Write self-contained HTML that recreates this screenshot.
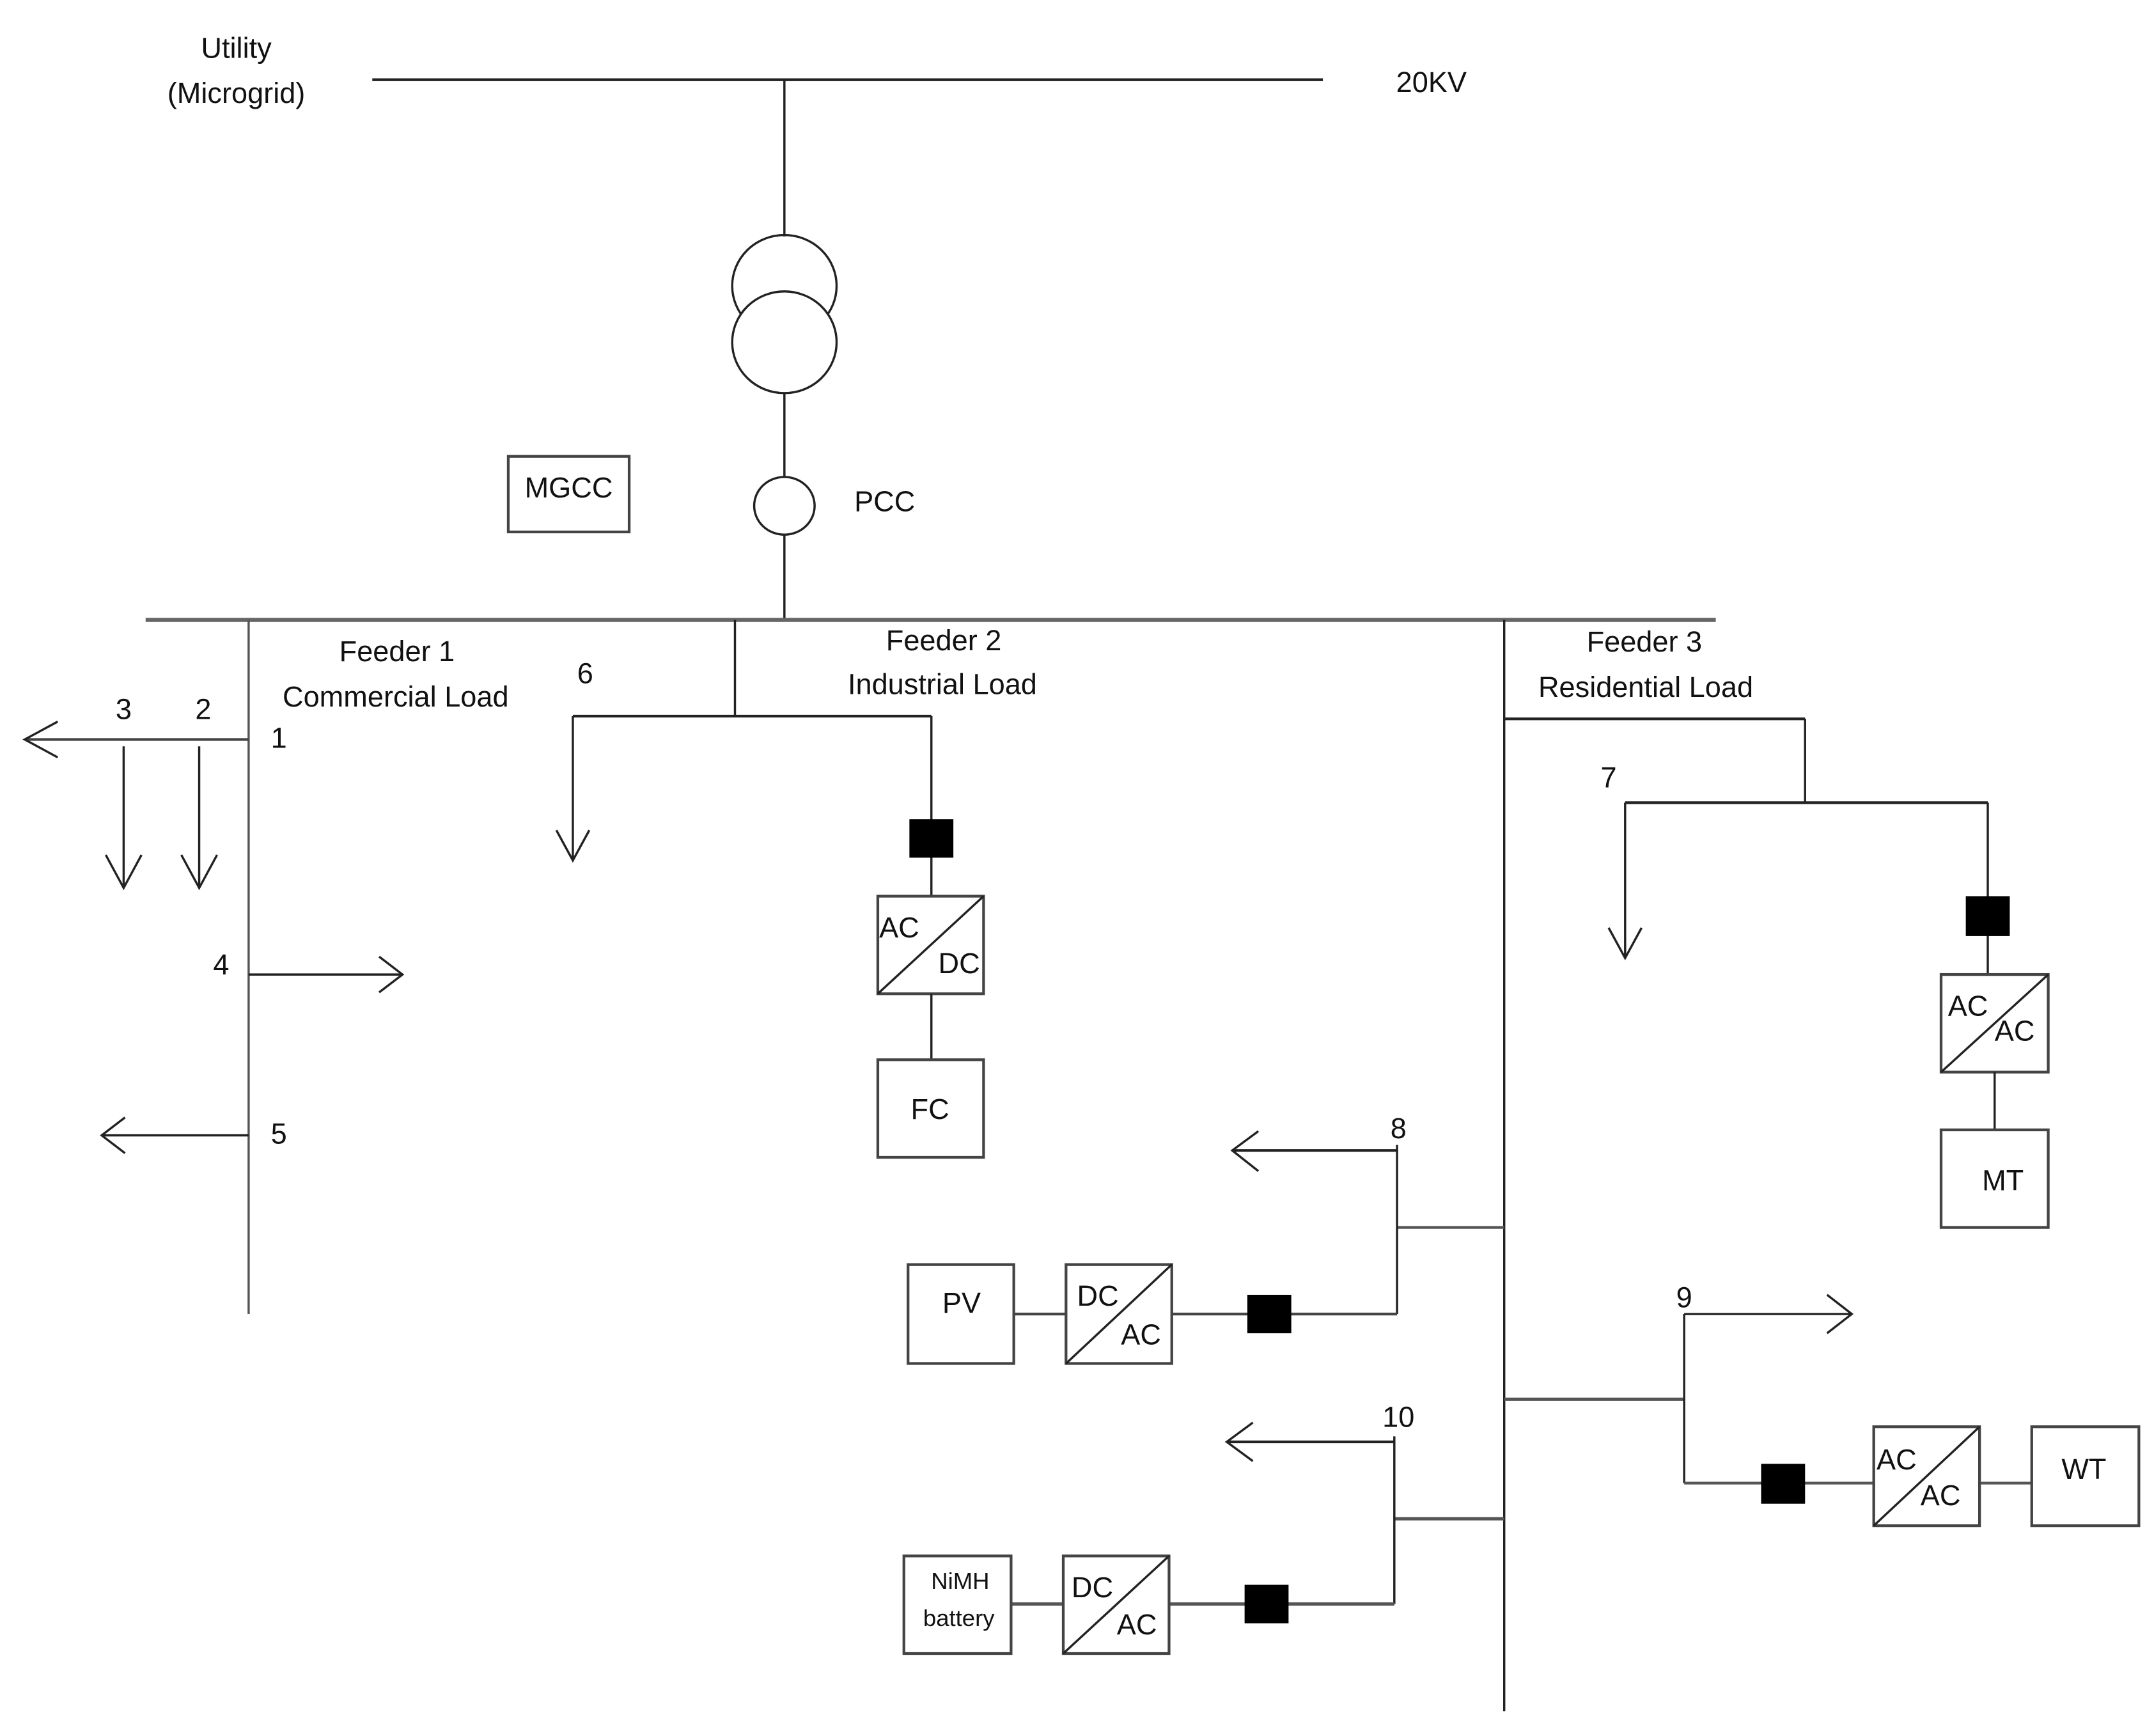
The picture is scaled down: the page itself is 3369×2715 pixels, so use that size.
<!DOCTYPE html>
<html><head><meta charset="utf-8"><style>
html,body{margin:0;padding:0;background:#fff;}
svg{display:block;}
text{font-family:"Liberation Sans",sans-serif;font-size:21px;fill:#111;}
</style></head><body>
<svg width="3369" height="2715" viewBox="0 0 1568 1263" preserveAspectRatio="none" xmlns="http://www.w3.org/2000/svg">
<g stroke="#222" fill="none" stroke-width="1.6">
<line x1="271" y1="58" x2="963" y2="58" stroke-width="2"/>
<line x1="571" y1="58" x2="571" y2="172"/>
<ellipse cx="571" cy="208" rx="38" ry="37"/>
<ellipse cx="571" cy="249" rx="38" ry="37" fill="#fff"/>
<line x1="571" y1="286" x2="571" y2="347"/>
<ellipse cx="571" cy="368" rx="22" ry="21"/>
<line x1="571" y1="389" x2="571" y2="451"/>
<rect x="370" y="332" width="88" height="55" stroke="#444" stroke-width="2"/>
<line x1="106" y1="451" x2="1249" y2="451" stroke="#666" stroke-width="3"/>
<!-- feeder 1 -->
<line x1="181" y1="451" x2="181" y2="956" stroke="#555"/>
<line x1="18" y1="538" x2="181" y2="538" stroke="#444" stroke-width="2"/>
<polyline points="42,525 18,538 42,551"/>
<line x1="90" y1="543" x2="90" y2="646"/><polyline points="77,622 90,646 103,622"/>
<line x1="145" y1="543" x2="145" y2="646"/><polyline points="132,622 145,646 158,622"/>
<line x1="181" y1="709" x2="293" y2="709"/><polyline points="276,696 293,709 276,722"/>
<line x1="74" y1="826" x2="181" y2="826"/><polyline points="91,813 74,826 91,839"/>
<!-- feeder 2 -->
<line x1="535" y1="451" x2="535" y2="521"/>
<line x1="417" y1="521" x2="678" y2="521" stroke-width="2"/>
<line x1="417" y1="521" x2="417" y2="626"/><polyline points="405,604 417,626 429,604"/>
<line x1="678" y1="521" x2="678" y2="652"/>
<rect x="662" y="596" width="32" height="28" fill="#000" stroke="none"/>
<rect x="639" y="652" width="77" height="71" stroke="#444" stroke-width="2"/>
<line x1="639" y1="723" x2="716" y2="652"/>
<line x1="678" y1="723" x2="678" y2="771"/>
<rect x="639" y="771" width="77" height="71" stroke="#444" stroke-width="2"/>
<!-- feeder 3 -->
<line x1="1095" y1="451" x2="1095" y2="1245"/>
<line x1="1095" y1="523" x2="1314" y2="523" stroke-width="2"/>
<line x1="1314" y1="523" x2="1314" y2="584"/>
<line x1="1183" y1="584" x2="1447" y2="584" stroke-width="2"/>
<line x1="1183" y1="584" x2="1183" y2="697"/><polyline points="1171,675 1183,697 1195,675"/>
<line x1="1447" y1="584" x2="1447" y2="709"/>
<rect x="1431" y="652" width="32" height="29" fill="#000" stroke="none"/>
<rect x="1413" y="709" width="78" height="71" stroke="#444" stroke-width="2"/>
<line x1="1413" y1="780" x2="1491" y2="709"/>
<line x1="1452" y1="780" x2="1452" y2="822"/>
<rect x="1413" y="822" width="78" height="71" stroke="#444" stroke-width="2"/>
<!-- branch 8 -->
<line x1="1017" y1="893" x2="1095" y2="893" stroke="#555" stroke-width="2"/>
<line x1="1017" y1="833" x2="1017" y2="956"/>
<line x1="897" y1="837" x2="1017" y2="837" stroke-width="2"/><polyline points="916,823 897,837 916,852"/>
<line x1="738" y1="956" x2="1017" y2="956" stroke="#444" stroke-width="2"/>
<rect x="661" y="920" width="77" height="72" fill="#fff" stroke="#444" stroke-width="2"/>
<rect x="776" y="920" width="77" height="72" fill="#fff" stroke="#444" stroke-width="2"/>
<line x1="776" y1="992" x2="853" y2="920"/>
<rect x="908" y="942" width="32" height="28" fill="#000" stroke="none"/>
<!-- branch 9 -->
<line x1="1095" y1="1018" x2="1226" y2="1018" stroke="#555" stroke-width="2.4"/>
<line x1="1226" y1="956" x2="1226" y2="1079"/>
<line x1="1226" y1="956" x2="1348" y2="956"/><polyline points="1330,942 1348,956 1330,970"/>
<line x1="1226" y1="1079" x2="1479" y2="1079" stroke="#555" stroke-width="2"/>
<rect x="1282" y="1065" width="32" height="29" fill="#000" stroke="none"/>
<rect x="1364" y="1038" width="77" height="72" fill="#fff" stroke="#444" stroke-width="2"/>
<line x1="1364" y1="1110" x2="1441" y2="1038"/>
<rect x="1479" y="1038" width="78" height="72" fill="#fff" stroke="#444" stroke-width="2"/>
<!-- branch 10 -->
<line x1="1015" y1="1105" x2="1095" y2="1105" stroke="#555" stroke-width="2.4"/>
<line x1="1015" y1="1045" x2="1015" y2="1167"/>
<line x1="893" y1="1049" x2="1015" y2="1049" stroke-width="2"/><polyline points="912,1035 893,1049 912,1063"/>
<line x1="736" y1="1167" x2="1015" y2="1167" stroke="#555" stroke-width="2.4"/>
<rect x="658" y="1132" width="78" height="71" fill="#fff" stroke="#444" stroke-width="2"/>
<rect x="774" y="1132" width="77" height="71" fill="#fff" stroke="#444" stroke-width="2"/>
<line x1="774" y1="1203" x2="851" y2="1132"/>
<rect x="906" y="1153" width="32" height="28" fill="#000" stroke="none"/>
</g>
<g text-anchor="middle">
<text x="172" y="42">Utility</text>
<text x="172" y="75">(Microgrid)</text>
<text x="1042" y="67">20KV</text>
<text x="644" y="372">PCC</text>
<text x="414" y="362">MGCC</text>
<text x="289" y="481">Feeder 1</text>
<text x="288" y="514">Commercial Load</text>
<text x="687" y="473">Feeder 2</text>
<text x="686" y="505">Industrial Load</text>
<text x="1197" y="474">Feeder 3</text>
<text x="1198" y="507">Residential Load</text>
<text x="90" y="523">3</text>
<text x="148" y="523">2</text>
<text x="203" y="544">1</text>
<text x="161" y="709">4</text>
<text x="203" y="832">5</text>
<text x="426" y="497">6</text>
<text x="1171" y="573">7</text>
<text x="1018" y="828">8</text>
<text x="1226" y="951">9</text>
<text x="1018" y="1038">10</text>
<text x="677" y="814">FC</text>
<text x="1458" y="866">MT</text>
<text x="700" y="955">PV</text>
<text x="1517" y="1076">WT</text>
<text x="699" y="1156" style="font-size:17px">NiMH</text>
<text x="698" y="1183" style="font-size:17px">battery</text>
</g>
<g>
<text x="640" y="682">AC</text><text x="683" y="708">DC</text>
<text x="1418" y="739">AC</text><text x="1452" y="757">AC</text>
<text x="784" y="950">DC</text><text x="816" y="978">AC</text>
<text x="1366" y="1069">AC</text><text x="1398" y="1095">AC</text>
<text x="780" y="1162">DC</text><text x="813" y="1189">AC</text>
</g>
</svg>
</body></html>
